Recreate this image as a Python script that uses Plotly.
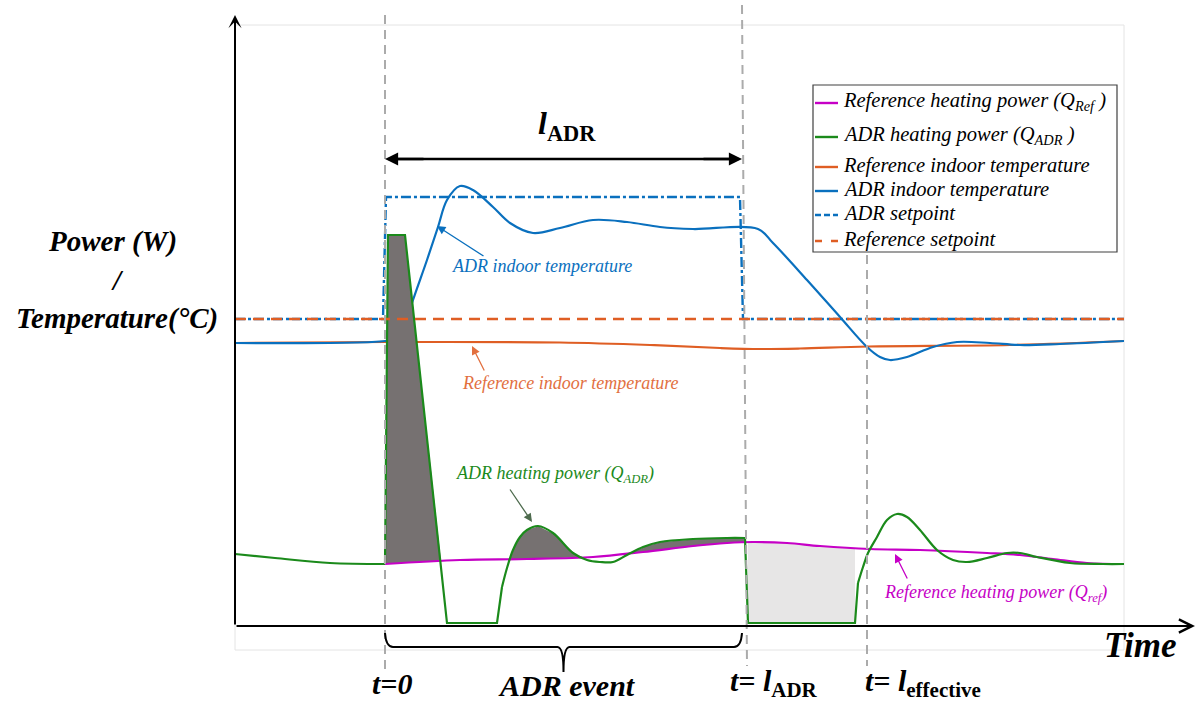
import numpy as np
import plotly.graph_objects as go

# ---------------------------------------------------------------
# Schematic of an ADR (active demand response) heating event.
# Time in arbitrary units: t = 0 is the start of the event.
# Power / temperature in arbitrary units, 0 = zero power.
# ---------------------------------------------------------------
L_ADR = 357          # duration of the ADR event
L_EFFECTIVE = 482    # end of the effective (rebound) period

# before the event both cases share the same heating power
T_PRE = [-150, -110, -55, 0]
Q_PRE = [72, 68, 63, 62]

# reference heating power during / after the event
T_QREF = [0, 75, 142, 208, 258, 308, 342, 368, 402, 435, 485, 535, 602, 635, 668, 702, 739]
Q_REF = [62, 66, 67, 69, 74, 80, 83, 84, 83, 80, 77, 76, 73, 71, 67, 63, 62]

# ADR heating power: boost, drop to zero, rebound, switch-off, recovery
T_ADR_DROP = [0, 3, 20, 62, 112, 117]
Q_ADR_DROP = [62, 391, 391, 3, 3, 39]
T_ADR_REB = [117, 122, 128, 135, 142, 153, 168, 188, 202, 215, 228, 242, 258, 275, 308, 342, 360]
Q_ADR_REB = [39, 58, 76, 89, 96, 100, 93, 73, 66, 64, 64, 71, 79, 84, 87, 88, 88]
T_ADR_OFF = [360, 363, 470, 473]
Q_ADR_OFF = [88, 3, 3, 43]
T_ADR_REC = [473, 478, 483, 492, 502, 512, 522, 535, 552, 568, 582, 602, 622, 635, 652, 685, 718, 739]
Q_ADR_REC = [43, 59, 73, 89, 106, 112, 109, 96, 76, 66, 64, 68, 73, 73, 69, 63, 62, 62]

# indoor temperatures
T_ADR_TEMP = [-150, 0, 13, 21, 28, 42, 53, 62, 75, 88, 108, 125, 148, 175, 208, 242, 275,
              308, 373, 388, 422, 455, 482, 495, 505, 522, 548, 572, 605, 635, 675, 739]
V_ADR_TEMP = [283, 285, 288, 304, 326, 366, 399, 426, 440, 436, 419, 403, 393, 398, 406, 404, 399,
              397, 397, 383, 346, 309, 279, 269, 266, 269, 279, 284, 283, 281, 282, 285]
T_REF_TEMP = [-150, 0, 30, 175, 265, 335, 375, 415, 483, 625, 739]
V_REF_TEMP = [283, 284, 284, 283.5, 281, 278, 277, 277.5, 279.5, 281, 285]

# setpoints
T_SP_ADR = [-150, -2, 1, 355, 358, 739]
SP_ADR = [307, 307, 429, 429, 307, 307]
T_SP_REF = [-150, 739]
SP_REF = [307, 307]

# colours
BLUE = "#0A70BE"
ORANGE = "#DF5E24"
ORANGE_TXT = "#E2703F"
MAGENTA = "#C600C6"
GREEN = "#1B8A1B"
DARK_FILL = "#767171"
LIGHT_FILL = "#E7E6E6"
GUIDE = "#ABABAB"
FONT = "Liberation Serif"

fig = go.Figure()


def curve(t, v, color, width=2.2, shape="spline", dash="solid"):
    fig.add_trace(go.Scatter(x=t, y=v, mode="lines", hoverinfo="skip",
                             line=dict(color=color, width=width, shape=shape, dash=dash)))


# indoor temperatures (drawn first, below the energy areas)
curve(T_REF_TEMP, V_REF_TEMP, ORANGE)
curve(T_ADR_TEMP, V_ADR_TEMP, BLUE)

# shaded energy: ADR power above reference power (dark) ...
t_ev = T_ADR_DROP + T_ADR_REB[1:]
q_ev = Q_ADR_DROP + Q_ADR_REB[1:]
grid = np.arange(0, T_ADR_REB[-1] + 0.01, 0.5)
q_adr_g = np.interp(grid, t_ev, q_ev)
q_ref_g = np.interp(grid, T_QREF, Q_REF)
upper = np.maximum(q_adr_g, q_ref_g)
fig.add_trace(go.Scatter(x=np.concatenate([grid, grid[::-1]]),
                         y=np.concatenate([upper, q_ref_g[::-1]]),
                         mode="lines", fill="toself", fillcolor=DARK_FILL,
                         line=dict(width=0), hoverinfo="skip"))

# ... and the reference power that is not used while the heater is off (light)
grid2 = np.arange(T_ADR_OFF[1], T_ADR_OFF[2] + 0.01, 0.5)
top2 = np.interp(grid2, T_QREF, Q_REF)
base2 = np.interp(grid2, T_ADR_OFF, Q_ADR_OFF)
fig.add_trace(go.Scatter(x=np.concatenate([grid2, grid2[::-1]]),
                         y=np.concatenate([top2, base2[::-1]]),
                         mode="lines", fill="toself", fillcolor=LIGHT_FILL,
                         line=dict(width=0), hoverinfo="skip"))

# heating powers
curve(T_QREF, Q_REF, MAGENTA)
curve(T_PRE, Q_PRE, GREEN)
curve(T_ADR_DROP, Q_ADR_DROP, GREEN, shape="linear")
curve(T_ADR_REB, Q_ADR_REB, GREEN)
curve(T_ADR_OFF, Q_ADR_OFF, GREEN, shape="linear")
curve(T_ADR_REC, Q_ADR_REC, GREEN)

# setpoints
SP_ADR_DASH = "10px,3px,3px,3px"
SP_REF_DASH = "11px,7px"
curve(T_SP_ADR, SP_ADR, BLUE, width=2.4, shape="linear", dash=SP_ADR_DASH)
curve(T_SP_REF, SP_REF, ORANGE, width=2.4, shape="linear", dash=SP_REF_DASH)

shapes = []
annotations = []

# light frame of the plotting area
shapes.append(dict(type="rect", x0=-150, x1=739, y0=-24, y1=601, layer="below",
                   line=dict(color="#E4E4E4", width=1)))

# vertical guides at t = 0, t = l_ADR, t = l_effective
guide = dict(color=GUIDE, width=2, dash="9px,6px")
shapes.append(dict(type="line", x0=0, x1=0, y0=611, y1=-44, line=guide))
shapes.append(dict(type="line", x0=L_ADR, x1=L_ADR + 5, y0=621, y1=-40, line=guide))
shapes.append(dict(type="line", x0=L_EFFECTIVE, x1=L_EFFECTIVE, y0=371, y1=-40, line=guide))

# axes drawn as arrows
annotations.append(dict(x=-150, y=611, ax=-150, ay=0, xref="x", yref="y", axref="x", ayref="y",
                        text="", showarrow=True, arrowhead=3, arrowsize=1.1, arrowwidth=2,
                        arrowcolor="black"))
annotations.append(dict(x=810, y=0, ax=-150, ay=0, xref="x", yref="y", axref="x", ayref="y",
                        text="", showarrow=True, arrowhead=5, arrowsize=1.3, arrowwidth=2,
                        arrowcolor="black"))

# double arrow marking the event length: a continuous line plus two heads
shapes.append(dict(type="line", x0=6, x1=L_ADR - 6, y0=467, y1=467,
                   line=dict(color="black", width=2.5)))
for end, tail in ((0, 40), (L_ADR, L_ADR - 40)):
    annotations.append(dict(x=end, y=467, ax=tail, ay=467, xref="x", yref="y", axref="x",
                            ayref="y", text="", showarrow=True, arrowhead=2, arrowsize=1.05,
                            arrowwidth=2.5, arrowcolor="black"))

# brace under the time axis for the event
mid = L_ADR / 2
shapes.append(dict(
    type="path",
    path=(f"M 0,-7 Q 1,-21 8,-21 L {mid - 6},-21 Q {mid},-21 {mid},-46 "
          f"Q {mid},-21 {mid + 6},-21 L {L_ADR - 8},-21 Q {L_ADR - 1},-21 {L_ADR},-7"),
    line=dict(color="black", width=2)))


def text(x, y, s, size, color="black", xanchor="center", yanchor="middle"):
    annotations.append(dict(x=x, y=y, xref="x", yref="y", text=s, showarrow=False,
                            xanchor=xanchor, yanchor=yanchor,
                            font=dict(family=FONT, size=size, color=color)))


def pointer(x_head, y_head, x_tail, y_tail, color):
    annotations.append(dict(x=x_head, y=y_head, ax=x_tail, ay=y_tail, xref="x", yref="y",
                            axref="x", ayref="y", text="", showarrow=True, arrowhead=2,
                            arrowsize=1.3, arrowwidth=1.3, arrowcolor=color))


# axis titles and time markers
text(-273, 385, "<b><i>Power (W)</i></b>", 29)
text(-268, 346, "<b><i>/</i></b>", 29)
text(-268, 308, "<b><i>Temperature(°C)</i></b>", 29)
text(755, -19, "<b><i>Time</i></b>", 35)
text(7, -57, "<b><i>t=0</i></b>", 30)
text(182, -59, "<b><i>ADR event</i></b>", 30)
text(343, -57, "<b><i>t= l</i><sub>ADR</sub></b>", 30, xanchor="left")
text(478, -57, "<b><i>t= l</i><sub>effective</sub></b>", 30, xanchor="left")
text(151, 501, "<b><i>l</i><sub>ADR</sub></b>", 32, xanchor="left")

# curve labels with pointers
text(157, 360, "<i>ADR indoor temperature</i>", 18, BLUE)
pointer(52, 400, 100, 369, BLUE)
text(185, 243, "<i>Reference indoor temperature</i>", 18, ORANGE_TXT)
pointer(87, 280, 100, 254, ORANGE_TXT)
text(170, 152, "<i>ADR heating power (Q<sub>ADR</sub>)</i>", 18, GREEN)
pointer(147, 104, 124, 138, "#4E6B4E")
text(610, 33, "<i>Reference heating power (Q<sub>ref</sub>)</i>", 18, MAGENTA)
pointer(510, 72, 523, 46, MAGENTA)

# legend box
shapes.append(dict(type="rect", x0=428, x1=732, y0=374, y1=541, fillcolor="white",
                   line=dict(color="#404040", width=1.2), layer="above"))
legend_rows = [
    ("Reference heating power (Q<sub>Ref</sub> )", MAGENTA, "solid", 523),
    ("ADR heating power (Q<sub>ADR</sub> )", GREEN, "solid", 489),
    ("Reference indoor temperature", ORANGE, "solid", 459),
    ("ADR indoor temperature", BLUE, "solid", 435),
    ("ADR setpoint", BLUE, "6px,3px", 411),
    ("Reference setpoint", ORANGE, "7px,9px", 385),
]
for label, color, dash, y in legend_rows:
    shapes.append(dict(type="line", x0=430, x1=453, y0=y, y1=y, layer="above",
                       line=dict(color=color, width=2.4, dash=dash)))
    text(456, y + 2, f"<i>{label}</i>", 20.5, xanchor="left")

fig.update_layout(
    width=1196, height=704,
    margin=dict(l=0, r=0, t=0, b=0),
    paper_bgcolor="white", plot_bgcolor="white",
    showlegend=False,
    font=dict(family=FONT),
    xaxis=dict(range=[-385, 811], visible=False, fixedrange=True),
    yaxis=dict(range=[-78, 626], visible=False, fixedrange=True),
    shapes=shapes,
    annotations=annotations,
)

fig.write_html("out.html")
